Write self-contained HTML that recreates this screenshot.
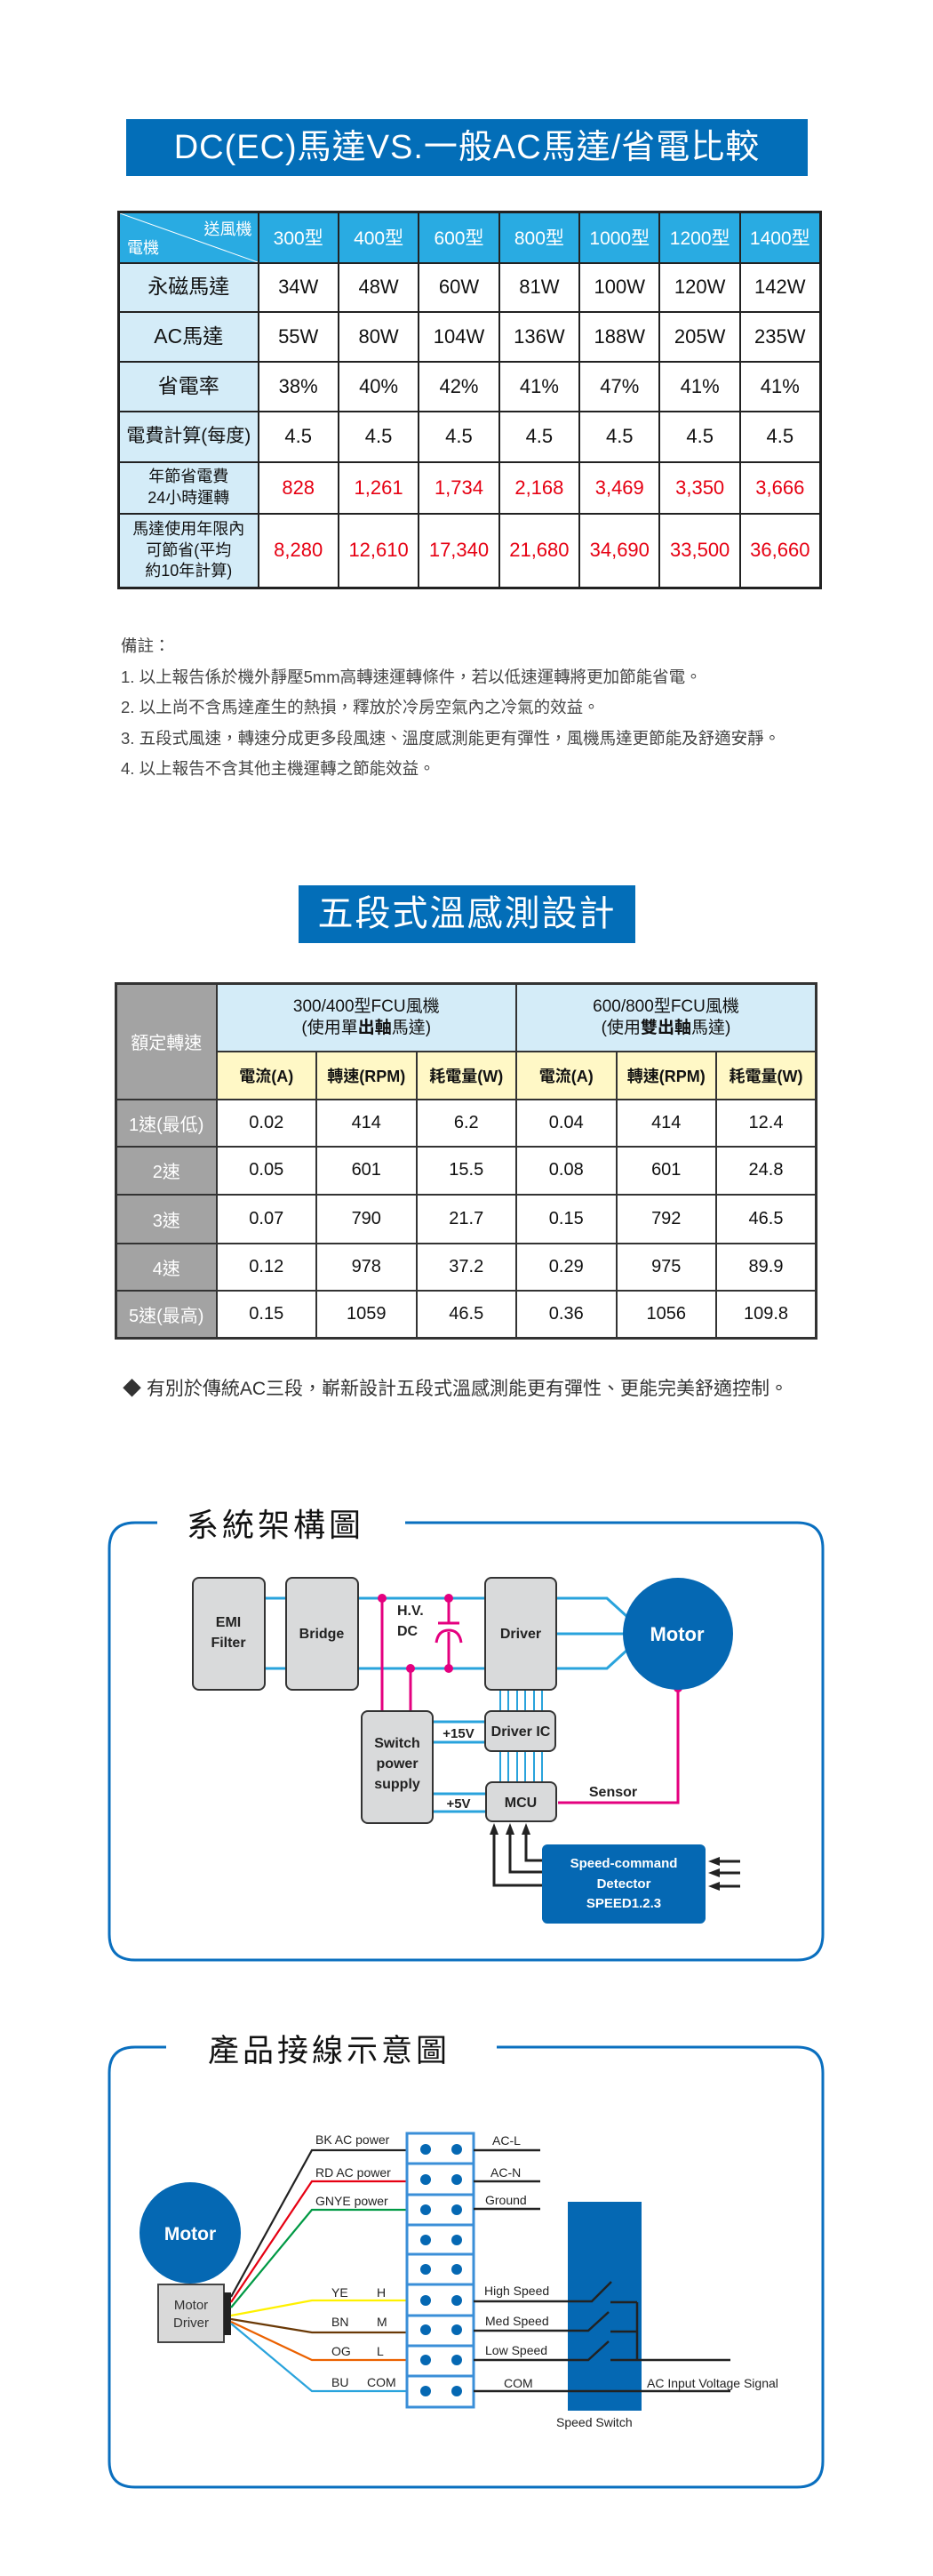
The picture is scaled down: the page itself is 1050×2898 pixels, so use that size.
<!DOCTYPE html>
<html><head><meta charset="utf-8">
<style>
*{margin:0;padding:0;box-sizing:border-box}
body{width:1050px;height:2898px;background:#fff;position:relative;overflow:hidden;font-family:"Liberation Sans","Noto Sans CJK TC",sans-serif;color:#222}
.abs{position:absolute}
.title{background:#036eb8;color:#fff;text-align:center;font-family:"Liberation Sans","Noto Sans CJK TC",sans-serif}
table{border-collapse:collapse;table-layout:fixed;position:absolute}
td{text-align:center;vertical-align:middle;font-family:"Liberation Sans Narrow","Liberation Sans","Noto Sans CJK TC",sans-serif}
#t1 td{border:2px solid #222;font-size:22px;color:#111}
#t1 td.h{background:#29abe2;color:#fff;font-size:21px}
#t1 td.l{background:#d4ecf8;font-size:21px;line-height:1.3}
#t1 td.r{color:#e60012}
#t1 td.s{font-size:18px}
#t2 td{border:2px solid #333;font-size:20px;color:#111}
#t2 td.g{background:#a3a3a3;color:#fff;font-size:20px}
#t2 td.b{background:#d4ecf8;font-size:19px;line-height:1.25}
#t2 td.y{background:#fff8c6;font-weight:bold;font-size:18px}
.notes{font-size:18.5px;color:#444;line-height:34.5px}
</style></head><body>

<div class="abs title" style="left:142px;top:134px;width:767px;height:64px;font-size:38px;line-height:64px;letter-spacing:1px">DC(EC)馬達VS.一般AC馬達/省電比較</div>

<table id="t1" style="left:132px;top:237px;width:790px;border:3px solid #222">
<colgroup><col style="width:157px"><col span="7" style="width:90.4px"></colgroup>
<tr style="height:57px"><td class="h" style="position:relative;padding:0">
<svg width="155" height="55" style="position:absolute;left:0;top:0"><line x1="0" y1="0" x2="155" y2="55" stroke="#fff" stroke-width="1"/></svg>
<span style="position:absolute;right:6px;top:4px;font-size:18px">送風機</span><span style="position:absolute;left:8px;bottom:4px;font-size:18px">電機</span></td>
<td class="h">300型</td><td class="h">400型</td><td class="h">600型</td><td class="h">800型</td><td class="h">1000型</td><td class="h">1200型</td><td class="h">1400型</td></tr>
<tr style="height:55px"><td class="l" style="font-size:23px">永磁馬達</td><td>34W</td><td>48W</td><td>60W</td><td>81W</td><td>100W</td><td>120W</td><td>142W</td></tr>
<tr style="height:56px"><td class="l" style="font-size:23px">AC馬達</td><td>55W</td><td>80W</td><td>104W</td><td>136W</td><td>188W</td><td>205W</td><td>235W</td></tr>
<tr style="height:56px"><td class="l" style="font-size:23px">省電率</td><td>38%</td><td>40%</td><td>42%</td><td>41%</td><td>47%</td><td>41%</td><td>41%</td></tr>
<tr style="height:57px"><td class="l">電費計算(每度)</td><td>4.5</td><td>4.5</td><td>4.5</td><td>4.5</td><td>4.5</td><td>4.5</td><td>4.5</td></tr>
<tr style="height:58px"><td class="l s">年節省電費<br>24小時運轉</td><td class="r">828</td><td class="r">1,261</td><td class="r">1,734</td><td class="r">2,168</td><td class="r">3,469</td><td class="r">3,350</td><td class="r">3,666</td></tr>
<tr style="height:84px"><td class="l s">馬達使用年限內<br>可節省(平均<br>約10年計算)</td><td class="r">8,280</td><td class="r">12,610</td><td class="r">17,340</td><td class="r">21,680</td><td class="r">34,690</td><td class="r">33,500</td><td class="r">36,660</td></tr>
</table>

<div class="abs notes" style="left:136px;top:710px;width:900px">備註：<br>1. 以上報告係於機外靜壓5mm高轉速運轉條件，若以低速運轉將更加節能省電。<br>2. 以上尚不含馬達產生的熱損，釋放於冷房空氣內之冷氣的效益。<br>3. 五段式風速，轉速分成更多段風速、溫度感測能更有彈性，風機馬達更節能及舒適安靜。<br>4. 以上報告不含其他主機運轉之節能效益。</div>

<div class="abs title" style="left:336px;top:996px;width:379px;height:65px;font-size:40px;line-height:65px;letter-spacing:2px">五段式溫感測設計</div>

<table id="t2" style="left:129px;top:1105px;width:788px;border:3px solid #333">
<colgroup><col style="width:113px"><col span="6" style="width:112.5px"></colgroup>
<tr style="height:76px"><td class="g" rowspan="2">額定轉速</td><td class="b" colspan="3">300/400型FCU風機<br>(使用單<b>出軸</b>馬達)</td><td class="b" colspan="3">600/800型FCU風機<br>(使用<b>雙出軸</b>馬達)</td></tr>
<tr style="height:54px"><td class="y">電流(A)</td><td class="y">轉速(RPM)</td><td class="y">耗電量(W)</td><td class="y">電流(A)</td><td class="y">轉速(RPM)</td><td class="y">耗電量(W)</td></tr>
<tr style="height:53px"><td class="g">1速(最低)</td><td>0.02</td><td>414</td><td>6.2</td><td>0.04</td><td>414</td><td>12.4</td></tr>
<tr style="height:54px"><td class="g">2速</td><td>0.05</td><td>601</td><td>15.5</td><td>0.08</td><td>601</td><td>24.8</td></tr>
<tr style="height:55px"><td class="g">3速</td><td>0.07</td><td>790</td><td>21.7</td><td>0.15</td><td>792</td><td>46.5</td></tr>
<tr style="height:53px"><td class="g">4速</td><td>0.12</td><td>978</td><td>37.2</td><td>0.29</td><td>975</td><td>89.9</td></tr>
<tr style="height:54px"><td class="g">5速(最高)</td><td>0.15</td><td>1059</td><td>46.5</td><td>0.36</td><td>1056</td><td>109.8</td></tr>
</table>

<div class="abs" style="left:138px;top:1546px;font-size:21px;color:#333;white-space:nowrap">◆ 有別於傳統AC三段，嶄新設計五段式溫感測能更有彈性、更能完美舒適控制。</div>

<svg class="abs" style="left:0;top:0" width="1050" height="2898" viewBox="0 0 1050 2898" font-family="Liberation Sans Narrow, Liberation Sans, sans-serif">
<path d="M177 1713 H152 Q123 1713 123 1742 V2176 Q123 2205 152 2205 H897 Q926 2205 926 2176 V1742 Q926 1713 897 1713 H456" fill="none" stroke="#0a6fbf" stroke-width="3"/>
<text x="210" y="1728" font-size="36" fill="#111" font-family="Liberation Sans, Noto Sans CJK TC, sans-serif" letter-spacing="4">系統架構圖</text>
<g stroke="#29a3dc" stroke-width="3" fill="none">
<line x1="298" y1="1798" x2="322" y2="1798"/><line x1="298" y1="1877" x2="322" y2="1877"/>
<line x1="403" y1="1798" x2="546" y2="1798"/><line x1="403" y1="1877" x2="546" y2="1877"/>
<polyline points="626,1798 683,1798 705,1818"/><line x1="626" y1="1838" x2="702" y2="1838"/><polyline points="626,1877 683,1877 705,1857"/>
<g stroke-width="2"><line x1="563" y1="1901" x2="563" y2="1925"/><line x1="572" y1="1901" x2="572" y2="1925"/><line x1="582" y1="1901" x2="582" y2="1925"/><line x1="591" y1="1901" x2="591" y2="1925"/><line x1="601" y1="1901" x2="601" y2="1925"/><line x1="610" y1="1901" x2="610" y2="1925"/>
<line x1="563" y1="1970" x2="563" y2="2005"/><line x1="572" y1="1970" x2="572" y2="2005"/><line x1="582" y1="1970" x2="582" y2="2005"/><line x1="591" y1="1970" x2="591" y2="2005"/><line x1="601" y1="1970" x2="601" y2="2005"/><line x1="610" y1="1970" x2="610" y2="2005"/></g>
<line x1="487" y1="1937" x2="546" y2="1937"/><line x1="487" y1="1960" x2="546" y2="1960"/>
<line x1="487" y1="2018" x2="547" y2="2018"/><line x1="487" y1="2038" x2="547" y2="2038"/>
</g>
<g stroke="#e4007f" stroke-width="3" fill="none">
<line x1="430" y1="1798" x2="430" y2="1925"/><line x1="462" y1="1877" x2="462" y2="1925"/>
<line x1="505" y1="1798" x2="505" y2="1826"/><line x1="493" y1="1826" x2="517" y2="1826"/>
<path d="M491 1848 Q493 1834 505 1834 Q517 1834 519 1848"/><line x1="505" y1="1836" x2="505" y2="1877"/>
<polyline points="628,2028 763,2028 763,1899"/>
</g>
<g fill="#e4007f"><ellipse cx="430" cy="1798" rx="5" ry="5"/><ellipse cx="505" cy="1798" rx="5" ry="5"/><ellipse cx="505" cy="1877" rx="5" ry="5"/><ellipse cx="462" cy="1877" rx="5" ry="5"/><ellipse cx="763" cy="1899" rx="5" ry="5"/></g>
<g fill="#d9dadb" stroke="#333" stroke-width="2">
<rect x="217" y="1775" width="81" height="126" rx="7"/><rect x="322" y="1775" width="81" height="126" rx="7"/><rect x="546" y="1775" width="80" height="126" rx="7"/>
<rect x="407" y="1925" width="80" height="126" rx="7"/><rect x="546" y="1925" width="79" height="45" rx="7"/><rect x="547" y="2005" width="79" height="44" rx="7"/>
</g>
<ellipse cx="763" cy="1838" rx="62" ry="63" fill="#0568b3"/>
<rect x="610" y="2075" width="184" height="89" rx="6" fill="#0568b3"/>
<g font-weight="bold" font-size="16" fill="#222" text-anchor="middle">
<text x="257" y="1830">EMI</text><text x="257" y="1853">Filter</text><text x="362" y="1843">Bridge</text>
<text x="586" y="1843">Driver</text><text x="586" y="1953">Driver IC</text><text x="586" y="2033">MCU</text>
<text x="447" y="1966">Switch</text><text x="447" y="1989">power</text><text x="447" y="2012">supply</text>
<text x="516" y="1955" font-size="15">+15V</text><text x="516" y="2034" font-size="15">+5V</text>
<text x="690" y="2021" font-size="16">Sensor</text>
<text x="762" y="1846" fill="#fff" font-size="22">Motor</text>
<text x="702" y="2101" fill="#fff" font-size="15">Speed-command</text><text x="702" y="2124" fill="#fff" font-size="15">Detector</text><text x="702" y="2146" fill="#fff" font-size="15">SPEED1.2.3</text>
</g>
<text x="447" y="1817" font-weight="bold" font-size="16" fill="#222">H.V.</text><text x="447" y="1840" font-weight="bold" font-size="16" fill="#222">DC</text>
<g stroke="#222" stroke-width="3" fill="none">
<polyline points="610,2121 556,2121 556,2060"/><polyline points="610,2106 574,2106 574,2060"/><polyline points="610,2093 592,2093 592,2060"/>
<line x1="806" y1="2094" x2="833" y2="2094"/><line x1="806" y1="2107" x2="833" y2="2107"/><line x1="806" y1="2122" x2="833" y2="2122"/>
</g>
<g fill="#222"><polygon points="556,2051 551,2064 561,2064"/><polygon points="574,2051 569,2064 579,2064"/><polygon points="592,2051 587,2064 597,2064"/>
<polygon points="797,2094 810,2089 810,2099"/><polygon points="797,2107 810,2102 810,2112"/><polygon points="797,2122 810,2117 810,2127"/></g>

<path d="M187 2303 H152 Q123 2303 123 2332 V2769 Q123 2798 152 2798 H897 Q926 2798 926 2769 V2332 Q926 2303 897 2303 H559" fill="none" stroke="#0a6fbf" stroke-width="3"/>
<text x="234" y="2319" font-size="35" fill="#111" font-family="Liberation Sans, Noto Sans CJK TC, sans-serif" letter-spacing="4">產品接線示意圖</text>
<ellipse cx="214" cy="2512" rx="57" ry="57" fill="#0568b3"/>
<text x="214" y="2520" text-anchor="middle" fill="#fff" font-weight="bold" font-size="21">Motor</text>
<rect x="178" y="2570" width="74" height="65" fill="#d9d9d9" stroke="#444" stroke-width="2"/>
<rect x="252" y="2579" width="8" height="48" fill="#222"/>
<text x="215" y="2598" text-anchor="middle" font-size="15" fill="#333">Motor</text><text x="215" y="2618" text-anchor="middle" font-size="15" fill="#333">Driver</text>
<g fill="none" stroke-width="2.2">
<polyline points="260,2584 351,2419 458,2419" stroke="#222"/>
<polyline points="260,2590 351,2454 458,2454" stroke="#e60012"/>
<polyline points="260,2596 351,2486 458,2486" stroke="#009944"/>
<polyline points="260,2605 351,2588 458,2588" stroke="#fff100"/>
<polyline points="260,2609 351,2624 458,2624" stroke="#6a3906"/>
<polyline points="260,2612 351,2655 458,2655" stroke="#eb6100"/>
<polyline points="260,2614 351,2690 458,2690" stroke="#29a3dc"/>
</g>
<g fill="#fff" stroke="#3b8fd8" stroke-width="3">
<rect x="458" y="2400" width="75" height="34"/><rect x="458" y="2434" width="75" height="35"/><rect x="458" y="2469" width="75" height="34"/><rect x="458" y="2503" width="75" height="33"/><rect x="458" y="2536" width="75" height="34"/><rect x="458" y="2570" width="75" height="35"/><rect x="458" y="2605" width="75" height="34"/><rect x="458" y="2639" width="75" height="34"/><rect x="458" y="2673" width="75" height="35"/>
</g>
<g fill="#0568b3">
<circle cx="479" cy="2418" r="6"/><circle cx="514" cy="2418" r="6"/><circle cx="479" cy="2452" r="6"/><circle cx="514" cy="2452" r="6"/><circle cx="479" cy="2486" r="6"/><circle cx="514" cy="2486" r="6"/><circle cx="479" cy="2520" r="6"/><circle cx="514" cy="2520" r="6"/><circle cx="479" cy="2553" r="6"/><circle cx="514" cy="2553" r="6"/><circle cx="479" cy="2588" r="6"/><circle cx="514" cy="2588" r="6"/><circle cx="479" cy="2621" r="6"/><circle cx="514" cy="2621" r="6"/><circle cx="479" cy="2655" r="6"/><circle cx="514" cy="2655" r="6"/><circle cx="479" cy="2690" r="6"/><circle cx="514" cy="2690" r="6"/>
</g>
<rect x="639" y="2477" width="83" height="235" fill="#0568b3"/>
<g stroke="#222" stroke-width="2.5" fill="none">
<line x1="533" y1="2419" x2="608" y2="2419"/><line x1="533" y1="2454" x2="608" y2="2454"/><line x1="533" y1="2485" x2="608" y2="2485"/>
<polyline points="533,2589 666,2589 688,2567"/><polyline points="533,2622 662,2622 685,2601"/><polyline points="533,2655 662,2655 685,2634"/>
<line x1="687" y1="2590" x2="717" y2="2590"/><line x1="687" y1="2623" x2="717" y2="2623"/><line x1="687" y1="2655" x2="822" y2="2655"/><line x1="717" y1="2590" x2="717" y2="2655"/>
<line x1="533" y1="2690" x2="822" y2="2690"/>
</g>
<g font-size="14" fill="#222">
<text x="355" y="2412">BK AC power</text><text x="355" y="2449">RD AC power</text><text x="355" y="2481">GNYE power</text>
<text x="373" y="2584">YE</text><text x="424" y="2584">H</text><text x="373" y="2617">BN</text><text x="424" y="2617">M</text>
<text x="373" y="2650">OG</text><text x="424" y="2650">L</text><text x="373" y="2685">BU</text><text x="413" y="2685">COM</text>
<text x="554" y="2413">AC-L</text><text x="552" y="2449">AC-N</text><text x="546" y="2480">Ground</text>
<text x="545" y="2582">High Speed</text><text x="546" y="2616">Med Speed</text><text x="546" y="2649">Low Speed</text>
<text x="567" y="2686">COM</text><text x="728" y="2686">AC Input Voltage Signal</text>
<text x="626" y="2730">Speed  Switch</text>
</g>
</svg>
</body></html>
